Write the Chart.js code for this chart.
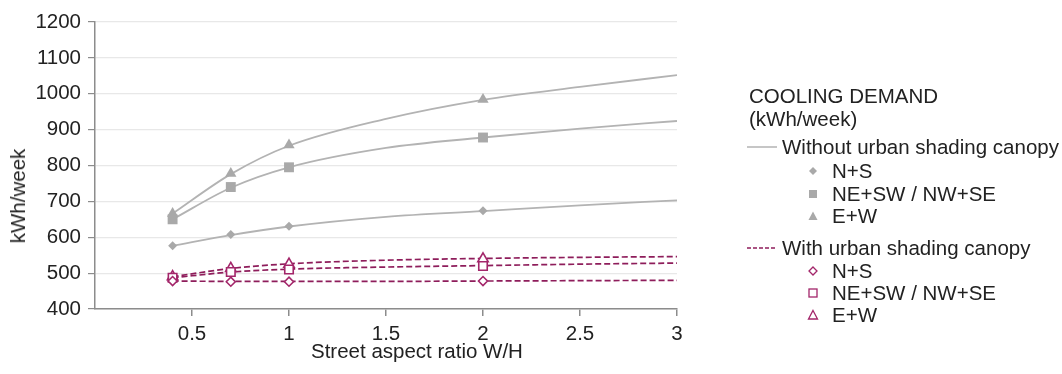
<!DOCTYPE html>
<html>
<head>
<meta charset="utf-8">
<script src="https://cdn.jsdelivr.net/npm/chart.js@4.4.1/dist/chart.umd.min.js"></script>
<style>
  body { margin: 0; background: #fff; }
  #wrap { position: relative; width: 1062px; height: 374px; font-family: "Liberation Sans", Arial, sans-serif; color: #222; }
  #chart { position: absolute; left: 0; top: 0; }
  .t { position: absolute; white-space: nowrap; font-size: 20.5px; line-height: 22px; }
  .leg { position: absolute; left: 0; top: 0; }
</style>
</head>
<body>
<div id="wrap">
  <canvas id="chart" width="1062" height="374"></canvas>
  <div class="t" id="ytitle" style="left:18px; top:196px; transform: translate(-50%,-50%) rotate(-90deg);">kWh/week</div>
  <div class="t" id="xtitle" style="left:311px; top:340px;">Street aspect ratio W/H</div>
  <div id="legend"></div>
</div>
<script>
// valores
const xPuntos = [0.4, 0.7, 1, 2];
const xTendencia = [0.4, 0.7, 1, 1.5, 2, 2.5, 3];

// sin toldo (gris)
const sinNS = [576, 608, 631, 674];
const sinNE = [650, 740, 795, 878];
const sinEW = [666, 778, 857, 984];
const sinNSTend = [576, 606, 630, 657, 673, 689, 703];
const sinNETend = [650, 738, 795, 849, 878, 903, 924];
const sinEWTend = [666, 776, 855, 930, 983, 1019, 1052];

// con toldo (magenta)
const conNS = [478, 476, 476, 478];
const conNE = [487, 503, 510, 520];
const conEW = [490, 513, 525, 540];
const conNSTend = [478, 477, 477, 477, 478, 479, 480];
const conNETend = [487, 503, 511, 517, 521, 525, 528];
const conEWTend = [490, 513, 526, 536, 541, 544, 546];

const yTicks = [400, 500, 600, 700, 800, 900, 1000, 1100, 1200];
const xTicks = [0.5, 1, 1.5, 2, 2.5, 3];

const gris = '#b3b3b3';
const grisMarca = '#a9a9a9';
const magenta = '#8e1d5b';
const magentaMarca = '#a3266a';
const fuente = '"Liberation Sans", Arial, sans-serif';

function pares(xs, ys) {
    return xs.map((x, i) => ({ x: x, y: ys[i] }));
}

function marcas(datos, estilo, radio, color, hueco) {
    return {
        data: pares(xPuntos, datos),
        showLine: false,
        pointStyle: estilo,
        pointRadius: radio,
        pointBackgroundColor: hueco ? '#fff' : color,
        pointBorderColor: color,
        pointBorderWidth: hueco ? 1.6 : 0
    };
}

function tendencia(datos, color, discontinua) {
    return {
        data: pares(xTendencia, datos),
        showLine: true,
        borderColor: color,
        borderWidth: discontinua ? 1.7 : 1.8,
        borderDash: discontinua ? [6, 3] : [],
        pointRadius: 0,
        cubicInterpolationMode: 'monotone',
        fill: false
    };
}

const datasets = [
    marcas(conNS, 'rectRot', 4.5, magentaMarca, true),
    marcas(conNE, 'rect', 6, magentaMarca, true),
    marcas(conEW, 'triangle', 6, magentaMarca, true),
    marcas(sinNS, 'rectRot', 4.5, grisMarca, false),
    marcas(sinNE, 'rect', 7, grisMarca, false),
    marcas(sinEW, 'triangle', 6.5, grisMarca, false),
    tendencia(conNSTend, magenta, true),
    tendencia(conNETend, magenta, true),
    tendencia(conEWTend, magenta, true),
    tendencia(sinNSTend, gris, false),
    tendencia(sinNETend, gris, false),
    tendencia(sinEWTend, gris, false)
];

new Chart(document.getElementById('chart'), {
    type: 'scatter',
    data: { datasets: datasets },
    options: {
        responsive: false,
        animation: false,
        events: [],
        layout: { padding: { top: 22, right: 385, left: 0, bottom: 0 } },
        plugins: { legend: { display: false }, tooltip: { enabled: false } },
        scales: {
            x: {
                type: 'linear',
                min: 0,
                max: 3,
                afterFit: s => { s.height = 65; },
                afterBuildTicks: s => { s.ticks = xTicks.map(v => ({ value: v })); },
                grid: { drawOnChartArea: false, drawTicks: true, tickLength: 7, tickColor: '#8c8c8c', lineWidth: 1.5 },
                border: { color: '#8c8c8c', width: 1.5 },
                ticks: { font: { family: fuente, size: 20.5 }, color: '#222', padding: 6, maxRotation: 0,
                         callback: v => String(v) }
            },
            y: {
                min: 400,
                max: 1200,
                afterFit: s => { s.width = 95; },
                afterBuildTicks: s => { s.ticks = yTicks.map(v => ({ value: v })); },
                grid: { color: '#e8e8e8', lineWidth: 1.2, tickLength: 7, tickColor: '#8c8c8c' },
                border: { color: '#8c8c8c', width: 1.5 },
                ticks: { font: { family: fuente, size: 20.5 }, color: '#222', padding: 7,
                         callback: v => String(v) }
            }
        }
    }
});

// leyenda en HTML
const filas = [
    { tipo: 'texto', texto: 'COOLING DEMAND', y: 96, x: 749 },
    { tipo: 'texto', texto: '(kWh/week)', y: 119, x: 749 },
    { tipo: 'linea', texto: 'Without urban shading canopy', y: 147, color: gris, dash: '' },
    { tipo: 'marca', texto: 'N+S', y: 171, forma: 'diamante', color: grisMarca, hueco: false },
    { tipo: 'marca', texto: 'NE+SW / NW+SE', y: 194, forma: 'cuadro', color: grisMarca, hueco: false },
    { tipo: 'marca', texto: 'E+W', y: 216, forma: 'triangulo', color: grisMarca, hueco: false },
    { tipo: 'linea', texto: 'With urban shading canopy', y: 248, color: magenta, dash: '4,2' },
    { tipo: 'marca', texto: 'N+S', y: 271, forma: 'diamante', color: magentaMarca, hueco: true },
    { tipo: 'marca', texto: 'NE+SW / NW+SE', y: 293, forma: 'cuadro', color: magentaMarca, hueco: true },
    { tipo: 'marca', texto: 'E+W', y: 315, forma: 'triangulo', color: magentaMarca, hueco: true }
];

function simbolo(forma, color, hueco) {
    const relleno = hueco ? '#fff' : color;
    const borde = hueco ? color : 'none';
    let s = '';
    if (forma === 'diamante') s = `<polygon points="6,2 10,6 6,10 2,6" fill="${relleno}" stroke="${borde}" stroke-width="1.3"/>`;
    if (forma === 'cuadro') s = `<rect x="2" y="2" width="8" height="8" fill="${relleno}" stroke="${borde}" stroke-width="1.3"/>`;
    if (forma === 'triangulo') s = `<polygon points="6,1.5 10.5,10 1.5,10" fill="${relleno}" stroke="${borde}" stroke-width="1.3"/>`;
    return `<svg width="12" height="12" style="position:absolute;">${s}</svg>`;
}

let html = '';
filas.forEach(f => {
    if (f.tipo === 'texto') {
        html += `<div class="t" style="left:${f.x}px; top:${f.y - 11}px;">${f.texto}</div>`;
    } else if (f.tipo === 'linea') {
        html += `<svg class="leg" width="40" height="4" style="left:747px; top:${f.y - 2}px;"><line x1="0" y1="2" x2="30" y2="2" stroke="${f.color}" stroke-width="1.5" stroke-dasharray="${f.dash}"/></svg>`;
        html += `<div class="t" style="left:782px; top:${f.y - 11}px;">${f.texto}</div>`;
    } else {
        html += `<div class="leg" style="left:807px; top:${f.y - 6}px;">${simbolo(f.forma, f.color, f.hueco)}</div>`;
        html += `<div class="t" style="left:832px; top:${f.y - 11}px;">${f.texto}</div>`;
    }
});
document.getElementById('legend').innerHTML = html;
</script>
</body>
</html>
